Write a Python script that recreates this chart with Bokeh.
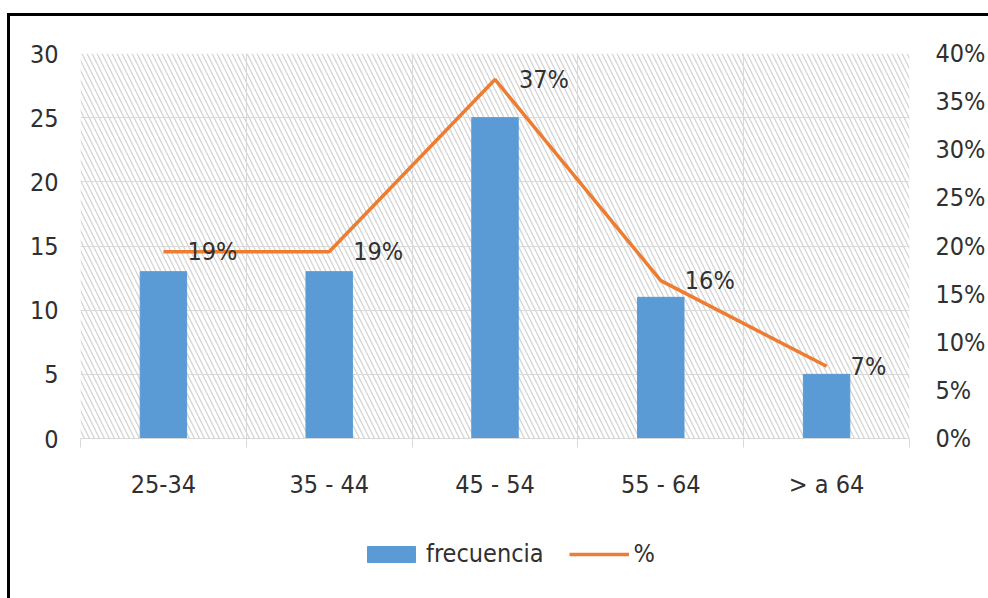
from bokeh.plotting import figure
from bokeh.layouts import column
from bokeh.models import (Range1d, LinearAxis, FixedTicker, NumeralTickFormatter,
                          BoxAnnotation, Legend, LegendItem, ColumnDataSource)
from bokeh.core.properties import value
from bokeh.embed import file_html
from bokeh.resources import INLINE

categories = ["25-34", "35 - 44", "45 - 54", "55 - 64", "> a 64"]
frecuencia = [13, 13, 25, 11, 5]
porcentaje = [0.194, 0.194, 0.373, 0.164, 0.075]
pct_labels = ["19%", "19%", "37%", "16%", "7%"]
left_ticks = [0, 5, 10, 15, 20, 25, 30]
right_ticks = [0, 0.05, 0.10, 0.15, 0.20, 0.25, 0.30, 0.35, 0.40]
series_names = ["frecuencia", "%"]

FONT = "'DejaVu Sans Condensed', Lato, sans-serif"
TXT = "#303030"
FS = "25px"
BLUE = "#5B9BD5"
ORANGE = "#ED7D31"

xs = [i + 0.5 for i in range(len(categories))]
bounds = list(range(len(categories) + 1))

src = ColumnDataSource(dict(x=xs, f=frecuencia, p=porcentaje, lab=pct_labels))

p = figure(width=978, height=500, output_backend="svg", toolbar_location=None,
           x_range=Range1d(0, len(categories)), y_range=Range1d(0, 30),
           min_border_left=70, min_border_right=79, min_border_top=37,
           min_border_bottom=78)
p.outline_line_color = None
p.extra_y_ranges = {"pct": Range1d(0, 0.40)}

# hatched background
p.add_layout(BoxAnnotation(fill_alpha=0, line_color=None, hatch_pattern="\\",
                           hatch_color="#d4d4d4", hatch_scale=10, hatch_weight=1.3,
                           level="image"))

bars = p.vbar(x="x", top="f", width=0.28, source=src, color=BLUE)
line = p.line(x="x", y="p", source=src, y_range_name="pct", line_color=ORANGE,
              line_width=3.5)
p.text(x="x", y="p", text="lab", source=src, y_range_name="pct", x_offset=24,
       text_baseline="middle", text_align="left", text_font=value(FONT),
       text_font_size=FS, text_color=TXT)

# axes
xa = p.xaxis[0]
xa.ticker = FixedTicker(ticks=xs, minor_ticks=bounds)
xa.major_label_overrides = {x: c for x, c in zip(xs, categories)}
xa.major_tick_line_color = None
xa.major_tick_out = 0
xa.major_tick_in = 0
xa.minor_tick_out = 9
xa.minor_tick_in = 0
xa.minor_tick_line_color = "#d9d9d9"
xa.axis_line_color = "#d9d9d9"
xa.major_label_standoff = 22

ya = p.yaxis[0]
ya.ticker = FixedTicker(ticks=left_ticks)
ya.axis_line_color = None
ya.major_tick_line_color = None
ya.minor_tick_line_color = None
ya.major_tick_out = 0
ya.major_label_standoff = 22

ra = LinearAxis(y_range_name="pct", ticker=FixedTicker(ticks=right_ticks),
                formatter=NumeralTickFormatter(format="0%"))
ra.axis_line_color = None
ra.major_tick_line_color = None
ra.minor_tick_line_color = None
ra.major_tick_out = 0
ra.major_label_standoff = 26
p.add_layout(ra, "right")

for ax in (xa, ya, ra):
    ax.major_label_text_font = FONT
    ax.major_label_text_font_size = FS
    ax.major_label_text_color = TXT

p.xgrid.ticker = FixedTicker(ticks=bounds)
p.xgrid.grid_line_color = "#d9d9d9"
p.ygrid.ticker = FixedTicker(ticks=left_ticks)
p.ygrid.grid_line_color = "#d9d9d9"

# legend strip (carrier renderers sit outside the visible range)
lg = figure(width=978, height=82, output_backend="svg", toolbar_location=None,
            x_range=Range1d(0, 1), y_range=Range1d(0, 1),
            x_axis_type=None, y_axis_type=None,
            min_border_left=0, min_border_right=0, min_border_top=0,
            min_border_bottom=0)
lg.outline_line_color = None
lg.xgrid.visible = False
lg.ygrid.visible = False
carrier = ColumnDataSource(dict(x=[-5, -4], y=[-5, -4]))
lb = lg.vbar(x="x", top="y", width=0.1, source=carrier, color=BLUE)
ll = lg.line(x="x", y="y", source=carrier, line_color=ORANGE, line_width=3.5)
legend = Legend(items=[LegendItem(label=series_names[0], renderers=[lb]),
                       LegendItem(label=series_names[1], renderers=[ll])],
                orientation="horizontal", location=(281, 30),
                glyph_width=60, glyph_height=20, label_standoff=5, spacing=25,
                padding=0, margin=0, border_line_color=None,
                background_fill_alpha=0, label_text_font=FONT,
                label_text_font_size=FS, label_text_color=TXT)
lg.add_layout(legend, "center")

page = column(p, lg, spacing=0)
page.styles = {"margin-top": "13px", "margin-left": "7px",
               "border-top": "3px solid black", "border-left": "3px solid black"}

open("out.html", "w").write(file_html(page, INLINE))
